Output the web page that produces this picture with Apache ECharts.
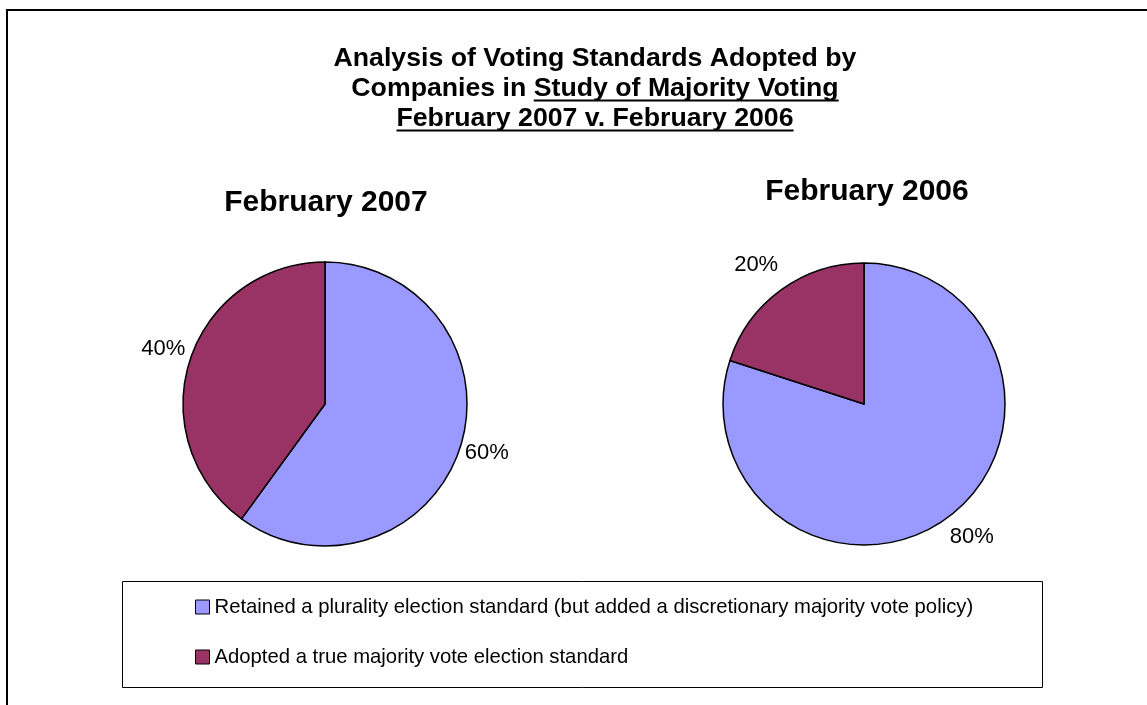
<!DOCTYPE html>
<html>
<head>
<meta charset="utf-8">
<script src="https://cdn.jsdelivr.net/npm/echarts@6/dist/echarts.min.js"></script>
<style>
html,body{margin:0;padding:0;background:#fff;}
#chart{width:1147px;height:705px;}
</style>
</head>
<body>
<div id="chart"></div>
<script>
// ---- data ----
const titleLines = ['Analysis of Voting Standards Adopted by', 'Companies in Study of Majority Voting', 'February 2007 v. February 2006'];
const underlinedParts = ['', 'Study of Majority Voting', 'February 2007 v. February 2006'];
const categories = ['Retained a plurality election standard (but added a discretionary majority vote policy)', 'Adopted a true majority vote election standard'];
const pieTitles = ['February 2007', 'February 2006'];
const values2007 = [60, 40];
const values2006 = [80, 20];

// ---- style ----
const FONT = '"Liberation Sans", Arial, Helvetica, sans-serif';
const colors = ['#9999FF', '#993366'];
const titleFont = 26.7, titleLH = 30, titleTop = 44, titleCX = 595;

function midAngles(vals) {
  const tot = vals.reduce((a, b) => a + b, 0);
  let acc = 0;
  return vals.map(v => { const m = (acc + v / 2) / tot * 2 * Math.PI; acc += v; return m; });
}
const allMid = [midAngles(values2007), midAngles(values2006)];

const chart = echarts.init(document.getElementById('chart'));

// underline positions from measured text
const ctx = document.createElement('canvas').getContext('2d');
ctx.font = 'bold ' + titleFont + 'px ' + FONT;
const underlines = [];
titleLines.forEach((line, i) => {
  const part = underlinedParts[i];
  if (!part) return;
  const idx = line.indexOf(part);
  const W = ctx.measureText(line).width;
  const x0 = titleCX - W / 2 + ctx.measureText(line.slice(0, idx)).width;
  const x1 = x0 + ctx.measureText(part).width;
  const y = titleTop + titleLH * (i + 0.5) + 11.5;
  underlines.push({ type: 'line', shape: { x1: x0, y1: y, x2: x1, y2: y }, style: { stroke: '#000', lineWidth: 2 }, silent: true });
});

function pieSeries(name, vals, center, radius) {
  return {
    type: 'pie',
    name: name,
    center: center,
    radius: radius,
    startAngle: 90,
    clockwise: true,
    avoidLabelOverlap: false,
    animation: false,
    data: categories.map((c, i) => ({ name: c, value: vals[i], itemStyle: { color: colors[i] } })),
    itemStyle: { borderColor: '#000', borderWidth: 1.5 },
    label: {
      show: true, position: 'outside', formatter: '{c}%',
      fontFamily: FONT, fontSize: 22, color: '#000', distanceToLabelLine: 0
    },
    labelLine: { show: false, length: 5, length2: 0 },
    labelLayout: function (p) {
      const a = allMid[p.seriesIndex][p.dataIndex];
      return { dy: -3 - 22 * Math.cos(a) };
    },
    emphasis: { disabled: true }
  };
}

chart.setOption({
  backgroundColor: '#fff',
  animation: false,
  title: [
    { text: titleLines.join('\n'), left: titleCX, top: titleTop, textAlign: 'center', padding: 0,
      textStyle: { fontFamily: FONT, fontSize: titleFont, fontWeight: 'bold', lineHeight: titleLH, color: '#000' } },
    { text: pieTitles[0], left: 326, top: 186, textAlign: 'center', padding: 0,
      textStyle: { fontFamily: FONT, fontSize: 30, fontWeight: 'bold', lineHeight: 34, color: '#000' } },
    { text: pieTitles[1], left: 867, top: 175, textAlign: 'center', padding: 0,
      textStyle: { fontFamily: FONT, fontSize: 30, fontWeight: 'bold', lineHeight: 34, color: '#000' } }
  ],
  legend: {
    orient: 'vertical', left: 195, top: 597, padding: 0,
    itemGap: 30, itemWidth: 14, itemHeight: 14, icon: 'rect', selectedMode: false,
    data: categories,
    itemStyle: { borderColor: '#000', borderWidth: 1 },
    textStyle: { fontFamily: FONT, fontSize: 20.3, lineHeight: 20, color: '#000' }
  },
  graphic: [
    { type: 'rect', shape: { x: 7, y: 10, width: 1300, height: 900 }, style: { fill: 'none', stroke: '#000', lineWidth: 2 }, silent: true },
    { type: 'rect', shape: { x: 122.5, y: 581.5, width: 920, height: 106 }, style: { fill: 'none', stroke: '#000', lineWidth: 1 }, silent: true }
  ].concat(underlines),
  series: [
    pieSeries(pieTitles[0], values2007, [325, 404], 142),
    pieSeries(pieTitles[1], values2006, [864, 404], 141)
  ]
});
</script>
</body>
</html>
